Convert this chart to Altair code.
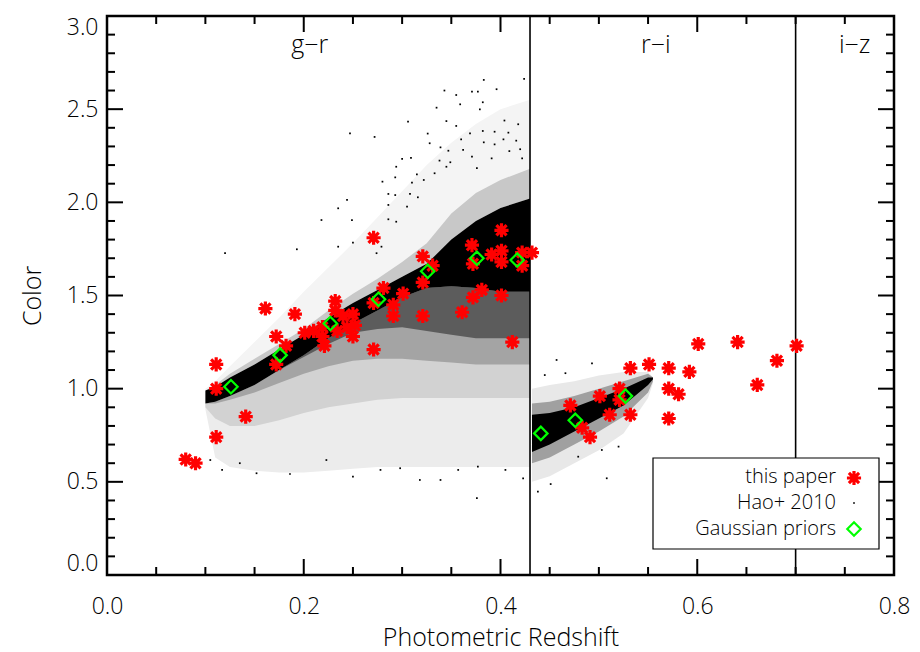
import altair as alt
import pandas as pd

# ---------------- data ----------------
# this paper (red asterisks): photometric redshift, colour
star_z = [0.080, 0.090, 0.111, 0.141, 0.111, 0.111, 0.161, 0.191, 0.172, 0.182, 0.172,
          0.232, 0.232, 0.201, 0.210, 0.219, 0.219, 0.221, 0.240, 0.244, 0.250, 0.252,
          0.250, 0.234, 0.271, 0.281, 0.271, 0.291, 0.291, 0.301, 0.321, 0.321, 0.321,
          0.331, 0.361, 0.372, 0.381, 0.401, 0.412, 0.271, 0.401, 0.371, 0.372, 0.401,
          0.391, 0.422, 0.422, 0.432, 0.401,
          0.471, 0.483, 0.491, 0.501, 0.511, 0.521, 0.521, 0.532, 0.532, 0.551, 0.571,
          0.571, 0.571, 0.581, 0.592, 0.601, 0.641, 0.661, 0.681, 0.701]
star_c = [0.62, 0.60, 0.74, 0.85, 1.00, 1.13, 1.43, 1.40, 1.28, 1.23, 1.13,
          1.47, 1.42, 1.30, 1.31, 1.33, 1.28, 1.23, 1.39, 1.33, 1.40, 1.34,
          1.28, 1.31, 1.21, 1.54, 1.46, 1.45, 1.39, 1.51, 1.39, 1.57, 1.71,
          1.66, 1.41, 1.49, 1.53, 1.50, 1.25, 1.81, 1.85, 1.77, 1.67, 1.68,
          1.72, 1.73, 1.66, 1.73, 1.74,
          0.91, 0.79, 0.74, 0.96, 0.86, 1.00, 0.94, 1.11, 0.86, 1.13, 1.11,
          1.00, 0.84, 0.97, 1.09, 1.24, 1.25, 1.02, 1.15, 1.23]

# Gaussian priors (green diamonds)
prior_z = [0.126, 0.176, 0.227, 0.276, 0.326, 0.376, 0.417, 0.441, 0.476, 0.527]
prior_c = [1.01, 1.18, 1.35, 1.48, 1.63, 1.70, 1.69, 0.76, 0.83, 0.96]

# Hao+ 2010 cloud, g-r part: envelopes of dot density (core / dense / medium / light / sparse)
gr_z          = [0.100, 0.110, 0.125, 0.150, 0.175, 0.200, 0.225, 0.250, 0.275, 0.300, 0.325, 0.350, 0.375, 0.400, 0.430]
gr_core_top   = [0.99, 1.01, 1.06, 1.13, 1.21, 1.29, 1.38, 1.46, 1.53, 1.60, 1.67, 1.80, 1.90, 1.97, 2.02]
gr_core_bot   = [0.92, 0.93, 0.96, 1.02, 1.10, 1.18, 1.27, 1.35, 1.42, 1.49, 1.54, 1.55, 1.54, 1.52, 1.52]
gr_dense_bot  = [0.92, 0.93, 0.96, 1.02, 1.10, 1.17, 1.24, 1.30, 1.32, 1.33, 1.31, 1.29, 1.27, 1.27, 1.27]
gr_med_bot    = [0.92, 0.92, 0.94, 0.98, 1.03, 1.08, 1.12, 1.15, 1.16, 1.16, 1.15, 1.14, 1.13, 1.13, 1.13]
gr_light_bot  = [0.90, 0.84, 0.80, 0.80, 0.83, 0.87, 0.90, 0.92, 0.94, 0.95, 0.95, 0.95, 0.95, 0.95, 0.95]
gr_sparse_bot = [0.89, 0.63, 0.58, 0.56, 0.55, 0.55, 0.56, 0.57, 0.58, 0.58, 0.58, 0.58, 0.58, 0.58, 0.58]
gr_med_top    = [0.99, 1.02, 1.08, 1.16, 1.24, 1.32, 1.42, 1.51, 1.59, 1.68, 1.78, 1.94, 2.05, 2.12, 2.18]
gr_sparse_top = [1.00, 1.04, 1.12, 1.25, 1.38, 1.52, 1.65, 1.78, 1.92, 2.06, 2.20, 2.32, 2.42, 2.50, 2.55]

# Hao+ 2010 cloud, r-i part
ri_z          = [0.432, 0.450, 0.475, 0.500, 0.525, 0.550, 0.555]
ri_core_top   = [0.86, 0.87, 0.90, 0.95, 1.00, 1.06, 1.06]
ri_core_bot   = [0.66, 0.70, 0.77, 0.84, 0.91, 1.02, 1.05]
ri_mid_top    = [0.92, 0.93, 0.96, 1.00, 1.04, 1.08, 1.06]
ri_mid_bot    = [0.60, 0.63, 0.70, 0.77, 0.85, 0.98, 1.04]
ri_sparse_top = [1.00, 1.02, 1.04, 1.07, 1.09, 1.09, 1.06]
ri_sparse_bot = [0.50, 0.53, 0.60, 0.67, 0.76, 0.95, 1.03]

# Hao+ 2010 isolated outlying dots
hao_z = [0.383, 0.424, 0.343, 0.355, 0.371, 0.377, 0.396, 0.359, 0.382, 0.335, 0.379,
         0.306, 0.345, 0.355, 0.404, 0.418, 0.247, 0.272, 0.326, 0.369, 0.382, 0.394,
         0.408, 0.328, 0.360, 0.383, 0.403, 0.416, 0.339, 0.347, 0.362, 0.394, 0.409,
         0.420, 0.300, 0.309, 0.338, 0.349, 0.371, 0.391, 0.422, 0.294, 0.315, 0.333,
         0.345, 0.376, 0.280, 0.293, 0.310, 0.322, 0.286, 0.244, 0.293, 0.308, 0.286,
         0.235, 0.305, 0.316, 0.218, 0.249, 0.286, 0.294, 0.250, 0.235, 0.193, 0.120,
         0.279, 0.274,
         0.376, 0.339, 0.250, 0.186, 0.152, 0.117, 0.423, 0.405, 0.298, 0.278, 0.318,
         0.357, 0.377, 0.223, 0.135, 0.105,
         0.457, 0.493, 0.466, 0.445, 0.508, 0.451, 0.438, 0.479, 0.503, 0.520]
hao_c = [2.657, 2.662, 2.600, 2.576, 2.594, 2.594, 2.607, 2.526, 2.537, 2.508, 2.499,
         2.433, 2.436, 2.410, 2.439, 2.419, 2.370, 2.351, 2.369, 2.370, 2.383, 2.379,
         2.374, 2.317, 2.338, 2.322, 2.338, 2.331, 2.295, 2.277, 2.281, 2.311, 2.275,
         2.285, 2.233, 2.238, 2.224, 2.215, 2.245, 2.236, 2.236, 2.191, 2.150, 2.156,
         2.191, 2.183, 2.111, 2.134, 2.106, 2.120, 2.045, 2.013, 2.039, 2.045, 1.986,
         1.968, 1.977, 2.027, 1.905, 1.905, 1.909, 1.896, 1.784, 1.762, 1.748, 1.727,
         1.762, 1.727,
         0.412, 0.510, 0.528, 0.542, 0.546, 0.564, 0.519, 0.564, 0.573, 0.564, 0.510,
         0.564, 0.581, 0.617, 0.600, 0.617,
         1.154, 1.136, 1.083, 1.073, 0.519, 0.488, 0.447, 0.635, 0.671, 0.689]

# colour boundaries and panel labels
bound_z = [0.43, 0.70]
panel_text = ["g\u2212r", "r\u2212i", "i\u2212z"]
panel_z = [0.206, 0.558, 0.760]
panel_c = [2.845, 2.845, 2.845]

# legend entries
legend_items = ["this paper", "Hao+ 2010", "Gaussian priors"]

# axis ticks
x_major = [0.0, 0.2, 0.4, 0.6, 0.8]
x_minor = [round(0.05 * i, 2) for i in range(17) if i % 4 != 0]
y_major = [0.0, 0.5, 1.0, 1.5, 2.0, 2.5, 3.0]
y_minor = [round(0.1 * i, 1) for i in range(31) if i % 5 != 0]

# ---------------- chart ----------------
W, H = 787, 559
FONT = "Open Sans"
FW = 300
xs = alt.Scale(domain=[0, 0.8], nice=False, zero=False)
ys = alt.Scale(domain=[0, 3.0], nice=False, zero=False)

X_AX = alt.Axis(values=x_major, format=".1f", ticks=False, domain=False, grid=False,
                labelFontSize=23, labelFont=FONT, labelFontWeight=FW, labelColor="black",
                labelPadding=20, labelFlush=False,
                title="Photometric Redshift", titleFontSize=25, titleFont=FONT,
                titleFontWeight=FW, titleColor="black", titlePadding=7)
Y_AX = alt.Axis(values=y_major, format=".1f", ticks=False, domain=False, grid=False,
                labelFontSize=23, labelFont=FONT, labelFontWeight=FW, labelColor="black",
                labelPadding=9, labelFlush=True,
                title="Color", titleFontSize=25, titleFont=FONT,
                titleFontWeight=FW, titleColor="black", titlePadding=21)


def band(zv, lo, hi, color):
    df = pd.DataFrame({"z": zv, "lo": lo, "hi": hi})
    return alt.Chart(df).mark_area(color=color, opacity=1, interpolate="linear").encode(
        x=alt.X("z:Q", scale=xs, axis=X_AX),
        y=alt.Y("lo:Q", scale=ys, axis=Y_AX),
        y2="hi:Q",
    )


layers = [
    band(gr_z, gr_sparse_bot, gr_core_bot, "#ececec"),
    band(gr_z, gr_core_top, gr_sparse_top, "#f4f4f4"),
    band(gr_z, gr_light_bot, gr_core_bot, "#d2d2d2"),
    band(gr_z, gr_core_top, gr_med_top, "#c8c8c8"),
    band(gr_z, gr_med_bot, gr_core_bot, "#a4a4a4"),
    band(gr_z, gr_dense_bot, gr_core_bot, "#5c5c5c"),
    band(gr_z, gr_core_bot, gr_core_top, "#000000"),
    band(ri_z, ri_sparse_bot, ri_sparse_top, "#e8e8e8"),
    band(ri_z, ri_mid_bot, ri_mid_top, "#a0a0a0"),
    band(ri_z, ri_core_bot, ri_core_top, "#000000"),
]

hao_df = pd.DataFrame({"z": hao_z, "c": hao_c})
layers.append(alt.Chart(hao_df).mark_square(size=3, color="black", opacity=1).encode(
    x=alt.X("z:Q", scale=xs), y=alt.Y("c:Q", scale=ys)))

bound_df = pd.DataFrame({"z": bound_z})
layers.append(alt.Chart(bound_df).mark_rule(color="black", strokeWidth=1.6).encode(
    x=alt.X("z:Q", scale=xs), y=alt.value(0), y2=alt.value(H)))

ASTER = "M-1,0L1,0M0,-1L0,1M-0.72,-0.72L0.72,0.72M-0.72,0.72L0.72,-0.72"
star_df = pd.DataFrame({"z": star_z, "c": star_c})
layers.append(alt.Chart(star_df).mark_point(shape=ASTER, size=200, filled=False,
                                             stroke="#ff0000", strokeWidth=3.2, opacity=1).encode(
    x=alt.X("z:Q", scale=xs), y=alt.Y("c:Q", scale=ys)))

prior_df = pd.DataFrame({"z": prior_z, "c": prior_c})
layers.append(alt.Chart(prior_df).mark_point(shape="diamond", size=180, filled=False,
                                              stroke="#00ff00", strokeWidth=2.2, opacity=1).encode(
    x=alt.X("z:Q", scale=xs), y=alt.Y("c:Q", scale=ys)))

panel_df = pd.DataFrame({"t": panel_text, "z": panel_z, "c": panel_c})
layers.append(alt.Chart(panel_df).mark_text(font=FONT, fontWeight=FW, fontSize=25, color="black",
                                             baseline="middle", align="center").encode(
    x=alt.X("z:Q", scale=xs), y=alt.Y("c:Q", scale=ys), text="t:N"))

# inward ticks on all four sides
xmaj = pd.DataFrame({"v": x_major})
xmin = pd.DataFrame({"v": x_minor})
ymaj = pd.DataFrame({"v": y_major})
ymin = pd.DataFrame({"v": y_minor})
for df, L in ((xmaj, 16), (xmin, 8)):
    layers.append(alt.Chart(df).mark_rule(color="black", strokeWidth=2).encode(
        x=alt.X("v:Q", scale=xs), y=alt.value(H), y2=alt.value(H - L)))
    layers.append(alt.Chart(df).mark_rule(color="black", strokeWidth=2).encode(
        x=alt.X("v:Q", scale=xs), y=alt.value(0), y2=alt.value(L)))
for df, L in ((ymaj, 16), (ymin, 8)):
    layers.append(alt.Chart(df).mark_rule(color="black", strokeWidth=2).encode(
        y=alt.Y("v:Q", scale=ys), x=alt.value(0), x2=alt.value(L)))
    layers.append(alt.Chart(df).mark_rule(color="black", strokeWidth=2).encode(
        y=alt.Y("v:Q", scale=ys), x=alt.value(W), x2=alt.value(W - L)))

# legend box (single-row data so every legend mark is drawn once)
one = pd.DataFrame({"k": [0]})
layers.append(alt.Chart(one).mark_rect(fill="white", stroke="black", strokeWidth=1.2).encode(
    x=alt.value(546), x2=alt.value(772), y=alt.value(442), y2=alt.value(533)))
for i, lab in enumerate(legend_items):
    yy = [461, 487, 513][i]
    layers.append(alt.Chart(one).mark_text(text=lab, font=FONT, fontWeight=FW, fontSize=20,
                                            color="black", align="right", baseline="middle").encode(
        x=alt.value(729), y=alt.value(yy)))
layers.append(alt.Chart(one).mark_point(shape=ASTER, size=200, filled=False, stroke="#ff0000",
                                         strokeWidth=3.2, opacity=1).encode(
    x=alt.value(747), y=alt.value(462)))
layers.append(alt.Chart(one).mark_square(size=3, color="black", opacity=1).encode(
    x=alt.value(747), y=alt.value(487)))
layers.append(alt.Chart(one).mark_point(shape="diamond", size=180, filled=False, stroke="#00ff00",
                                         strokeWidth=2.2, opacity=1).encode(
    x=alt.value(747), y=alt.value(513)))

chart = alt.layer(*layers).properties(
    width=W, height=H,
    autosize=alt.AutoSizeParams(type="none"),
    padding={"left": 107, "top": 16, "right": 26, "bottom": 77},
    background="white",
).configure_view(stroke="black", strokeWidth=2.5)

chart.save("out.html", embed_options={"renderer": "svg", "actions": False})
